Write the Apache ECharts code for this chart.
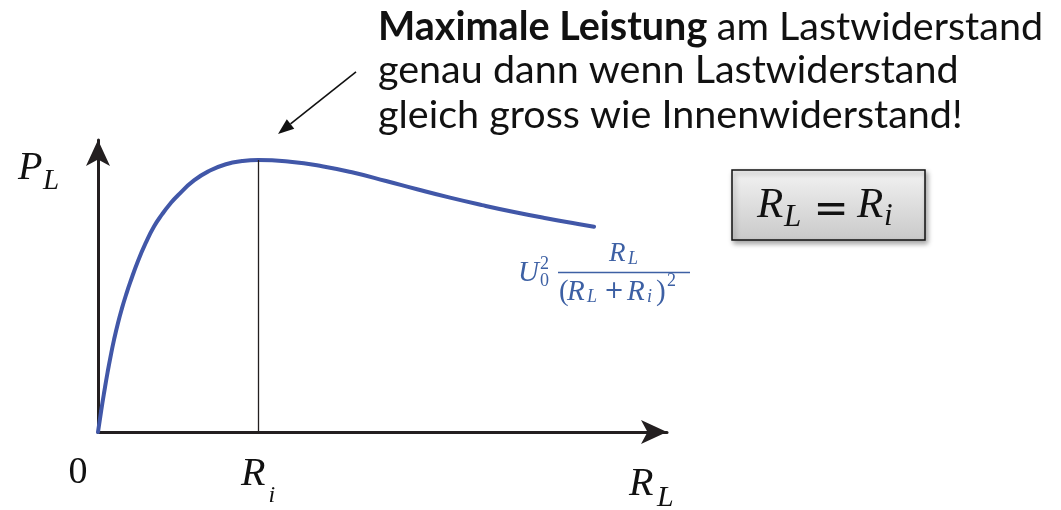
<!DOCTYPE html>
<html>
<head>
<meta charset="utf-8">
<script src="https://cdn.jsdelivr.net/npm/echarts@6/dist/echarts.min.js"></script>
<style>
  html, body { margin: 0; padding: 0; background: #ffffff; }
  #chart { width: 1061px; height: 510px; }
</style>
</head>
<body>
<div id="chart"></div>
<script>
// Load resistance R_L (in units of R_i) and delivered power P_L (in units of U0²/R_i)
const loadResistance = [0, 0.02, 0.04, 0.06, 0.08, 0.1, 0.125, 0.15, 0.175, 0.2, 0.25, 0.3, 0.35, 0.4, 0.45, 0.5, 0.6, 0.7, 0.8, 0.9, 1.0, 1.2, 1.4, 1.6, 1.8, 2.0, 2.2, 2.4, 2.6, 2.8, 3.0, 3.1];
const loadPower      = [0, 0.0195, 0.0375, 0.0545, 0.0700, 0.0840, 0.0995, 0.1130, 0.1250, 0.1360, 0.1560, 0.1730, 0.1875, 0.1985, 0.2080, 0.2160, 0.2295, 0.2385, 0.2443, 0.2472, 0.2482, 0.2466, 0.2425, 0.2365, 0.2290, 0.2212, 0.2138, 0.2070, 0.2007, 0.1950, 0.1898, 0.1873];
// Matched-load point R_L = R_i
const matchR = 1.0;
const matchP = 0.2482;
// Axis tick positions
const xTicks = [0, matchR];

const curveColor = '#4157a8';
const formulaColor = '#3d60a4';
const axisColor = '#231f20';
const serif = '"Liberation Serif", "DejaVu Serif", serif';
const sans = 'Lato, "Open Sans", sans-serif';

const chart = echarts.init(document.getElementById('chart'), null, { renderer: 'canvas' });

function txt(text, x, y, size, opts) {
  opts = opts || {};
  return {
    type: 'text',
    silent: true,
    style: {
      text: text,
      x: x,
      y: y,
      fill: opts.fill || '#111111',
      font: (opts.italic === false ? '' : 'italic ') + (opts.weight || 'normal') + ' ' + size + 'px ' + (opts.family || serif),
      align: opts.align || 'left',
      verticalAlign: opts.va || 'middle'
    }
  };
}

const option = {
  backgroundColor: '#ffffff',
  animation: false,
  grid: { left: 98, right: 394, top: 140, bottom: 78, containLabel: false },
  xAxis: {
    type: 'value',
    min: 0,
    max: 3.556,
    splitLine: { show: false },
    axisLine: {
      show: true,
      lineStyle: { color: axisColor, width: 3 },
      symbol: ['none', 'arrow'],
      symbolSize: [18, 26]
    },
    axisTick: { show: false },
    axisLabel: {
      show: true,
      customValues: xTicks,
      margin: 22,
      formatter: function (v) {
        return v === 0 ? '{z|0}' : '{r|R}{s|i}';
      },
      rich: {
        z: { fontFamily: serif, fontSize: 38, color: '#111', padding: [0, 40, 0, 0] },
        r: { fontFamily: serif, fontStyle: 'italic', fontSize: 40, color: '#111', verticalAlign: 'top', lineHeight: 40 },
        s: { fontFamily: serif, fontStyle: 'italic', fontSize: 24, color: '#111', verticalAlign: 'top', lineHeight: 24, padding: [30, 0, 0, 3] }
      }
    }
  },
  yAxis: {
    type: 'value',
    min: 0,
    max: 0.2664,
    splitLine: { show: false },
    axisTick: { show: false },
    axisLabel: { show: false },
    axisLine: {
      show: true,
      lineStyle: { color: axisColor, width: 3 },
      symbol: ['none', 'arrow'],
      symbolSize: [18, 26]
    }
  },
  series: [{
    type: 'line',
    data: loadResistance.map((r, i) => [r, loadPower[i]]),
    smooth: 0.5,
    showSymbol: false,
    silent: true,
    lineStyle: { color: curveColor, width: 4, cap: 'round', join: 'round' },
    markLine: {
      silent: true,
      symbol: ['none', 'none'],
      label: { show: false },
      lineStyle: { color: axisColor, width: 1.3, type: 'solid' },
      data: [[{ coord: [matchR, 0] }, { coord: [matchR, matchP] }]]
    },
    z: 3
  }]
};

chart.setOption(option);

// Annotations placed relative to the plotted peak and axes
const peak = chart.convertToPixel({ gridIndex: 0 }, [matchR, matchP]);
const origin = chart.convertToPixel({ gridIndex: 0 }, [0, 0]);

const arrowTip = [peak[0] + 20, peak[1] - 26];
const arrowTail = [peak[0] + 98, peak[1] - 88];
const ang = Math.atan2(arrowTip[1] - arrowTail[1], arrowTip[0] - arrowTail[0]);
const hl = 16, hw = 6;
const base = [arrowTip[0] - hl * Math.cos(ang), arrowTip[1] - hl * Math.sin(ang)];
const headPts = [
  arrowTip,
  [base[0] + hw * Math.sin(ang), base[1] - hw * Math.cos(ang)],
  [base[0] - hw * Math.sin(ang), base[1] + hw * Math.cos(ang)]
];

const fc = { fill: formulaColor };
const fcu = { fill: formulaColor, italic: false };

chart.setOption({
  graphic: [
    // Y axis name P_L
    txt('P', 18, origin[1] - 264, 40),
    txt('L', 43, origin[1] - 251, 29),
    // X axis name R_L
    txt('R', 629, origin[1] + 52, 40),
    txt('L', 657, origin[1] + 66, 30),

    // Power formula next to the curve
    txt('U', 518, 273, 29, fc),
    txt('2', 540, 264, 18, fcu),
    txt('0', 540, 281, 18, fcu),
    txt('R', 609, 253.5, 27, fc),
    txt('L', 628, 259, 18, fc),
    {
      type: 'line', silent: true,
      shape: { x1: 558, y1: 272.5, x2: 690, y2: 272.5 },
      style: { stroke: formulaColor, lineWidth: 1.4 }
    },
    txt('(', 559, 292, 29, fcu),
    txt('R', 567, 292, 29, fc),
    txt('L', 587, 297.5, 18, fc),
    txt('+', 614, 292, 24, { fill: formulaColor, italic: false, align: 'center', family: '"DejaVu Sans", sans-serif' }),
    txt('R', 627, 292, 29, fc),
    txt('i', 647, 297, 18, fc),
    txt(')', 656, 292, 29, fcu),
    txt('2', 667, 281, 18, fcu),

    // Matching condition box
    {
      type: 'rect', silent: true,
      shape: { x: 732, y: 170, width: 193, height: 70 },
      style: {
        fill: new echarts.graphic.LinearGradient(0, 0, 0, 1, [
          { offset: 0, color: '#f3f3f3' },
          { offset: 1, color: '#c9c9c9' }
        ]),
        stroke: '#111111',
        lineWidth: 1.5,
        shadowBlur: 5,
        shadowOffsetX: 2,
        shadowOffsetY: 3,
        shadowColor: 'rgba(0,0,0,0.35)'
      }
    },
    txt('R', 757, 206, 43),
    txt('L', 784, 217.5, 31),
    txt('=', 831, 211, 42, { italic: false, align: 'center', family: '"DejaVu Sans", sans-serif' }),
    txt('R', 857, 206, 43),
    txt('i', 884, 217, 31),

    // Explanation text
    {
      type: 'text', silent: true,
      style: {
        text: '{b|Maximale Leistung }{n|am Lastwiderstand}',
        x: 378, y: 27,
        verticalAlign: 'middle',
        rich: {
          b: { fontFamily: sans, fontWeight: 'bold', fontSize: 39.5, fill: '#111' },
          n: { fontFamily: sans, fontSize: 39.5, fill: '#111' }
        }
      }
    },
    txt('genau dann wenn Lastwiderstand', 378, 70, 39.5, { italic: false, family: sans }),
    txt('gleich gross wie Innenwiderstand!', 378, 115, 39.5, { italic: false, family: sans }),

    // Arrow pointing at the maximum
    {
      type: 'line', silent: true,
      shape: { x1: arrowTail[0], y1: arrowTail[1], x2: base[0], y2: base[1] },
      style: { stroke: '#111111', lineWidth: 1.6 }
    },
    {
      type: 'polygon', silent: true,
      shape: { points: headPts },
      style: { fill: '#111111' }
    }
  ]
});
</script>
</body>
</html>
